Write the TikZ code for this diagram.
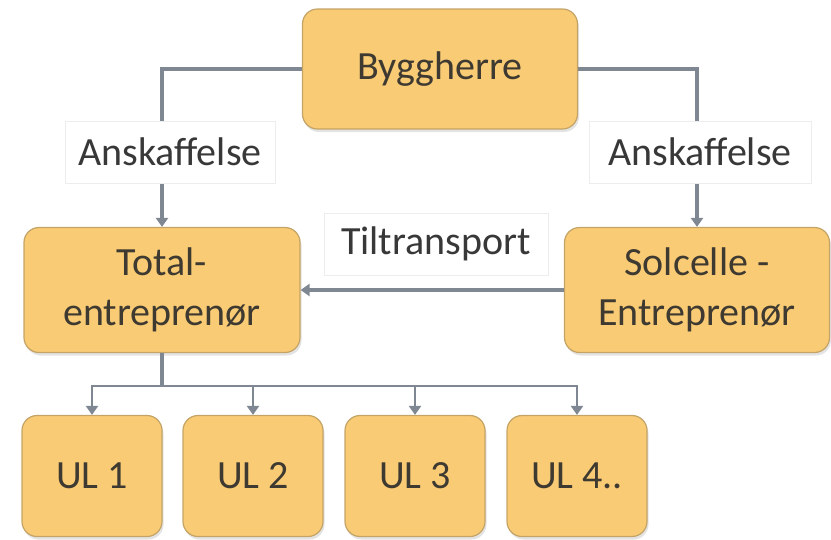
\documentclass[tikz,border=0pt]{standalone}
\usepackage{fontspec}
\setmainfont{Carlito}
\usepackage{xcolor}
\usetikzlibrary{arrows.meta,positioning,shadows,backgrounds}
\definecolor{boxfill}{HTML}{F9CB74}
\definecolor{boxline}{HTML}{C4A466}
\definecolor{conn}{HTML}{7F8892}
\definecolor{ink}{HTML}{3E3A31}

\begin{document}
\begin{tikzpicture}[
  x=1pt, y=-1pt,
  font=\fontsize{40}{50}\selectfont,
  party/.style={draw=boxline, line width=1.2pt, fill=boxfill, rounded corners=15pt,
                text=ink, align=center, inner sep=0pt,
                drop shadow={opacity=0.22, shadow xshift=1.5pt, shadow yshift=-3pt}},
  sub/.style={party, minimum width=140pt, minimum height=121pt},
  tag/.style={draw=black!7, fill=white, text=black!78, inner sep=0pt,
              minimum height=62pt, align=center},
  line/.style={conn, line width=3.5pt},
  arr/.style={line, -{Triangle[length=9pt, width=12pt]}}
]
\useasboundingbox (0,0) rectangle (831,539);
% --- parties ---
\node[party, minimum width=275pt, minimum height=120pt] (byg) at (440,69) {Byggherre};
\node[party, minimum width=276pt, minimum height=125pt] (total) at (162,290) {Total-\\entreprenør};
\node[party, minimum width=265pt, minimum height=125pt] (sol) at (697,290) {Solcelle -\\Entreprenør};
% --- subcontractors ---
\node[sub] (ul1) at (92,476) {UL 1};
\node[sub] (ul2) at (253,476) {UL 2};
\node[sub] (ul3) at (415,476) {UL 3};
\node[sub] (ul4) at (577,476) {UL 4..};
% --- connector labels ---
\node[tag, minimum width=210pt] (ansk1) at (170,152) {Anskaffelse};
\node[tag, minimum width=222pt] (ansk2) at (700,152) {Anskaffelse};
\node[tag, minimum width=224pt] (tilt) at (436,244) {Tiltransport};
% --- arrows ---
\begin{scope}[on background layer]
\draw[arr] (byg.west) -| (total.north);
\draw[arr] (byg.east) -| (sol.north);
\end{scope}
\draw[arr] (sol.west) -- (total.east);
\draw[line] (total.south) -- ++(0,33) coordinate (bus);
\foreach \n in {ul1,ul2,ul3,ul4}
  \draw[arr, line width=2.5pt] (bus) -| (\n.north);
\end{tikzpicture}
\end{document}
